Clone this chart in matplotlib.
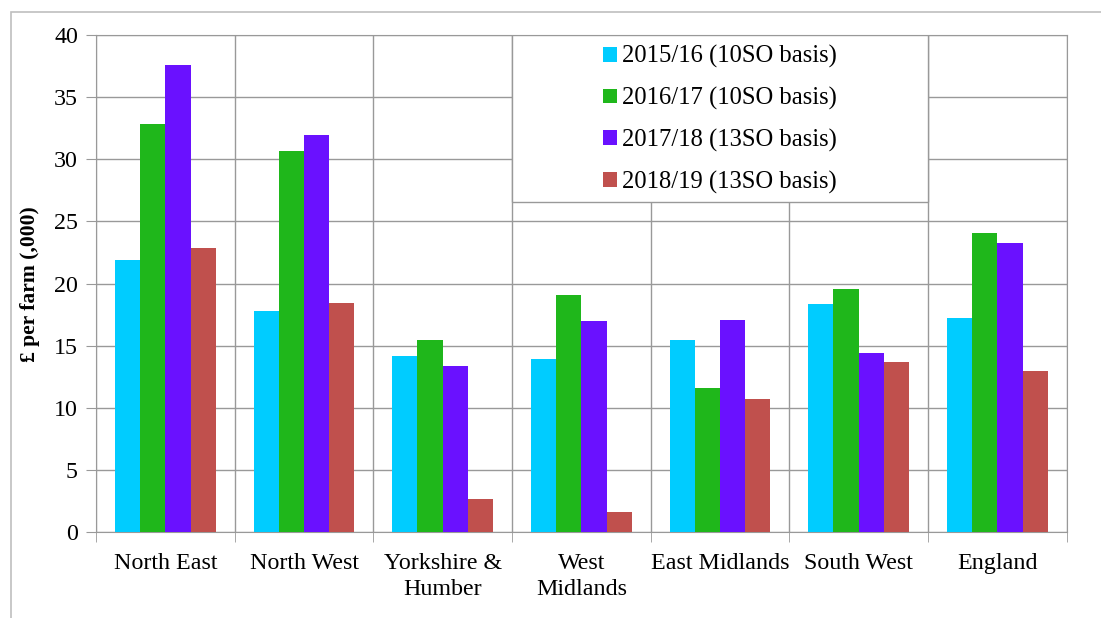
import numpy as np
import matplotlib
matplotlib.use("Agg")
import matplotlib.pyplot as plt
from matplotlib.patches import Rectangle

regions = ["North East", "North West", "Yorkshire &\nHumber", "West\nMidlands",
           "East Midlands", "South West", "England"]
series = ["2015/16 (10SO basis)", "2016/17 (10SO basis)",
          "2017/18 (13SO basis)", "2018/19 (13SO basis)"]
v_2015 = [21.9, 17.8, 14.2, 13.9, 15.45, 18.4, 17.2]
v_2016 = [32.8, 30.65, 15.45, 19.1, 11.6, 19.6, 24.05]
v_2017 = [37.6, 31.95, 13.4, 17.0, 17.1, 14.4, 23.3]
v_2018 = [22.85, 18.45, 2.7, 1.6, 10.75, 13.7, 13.0]
colors = ["#00CCFF", "#1FB71B", "#6A11FF", "#C0504D"]

plt.rcParams["font.family"] = ["Liberation Serif", "DejaVu Serif"]

fig = plt.figure(figsize=(11.01, 6.18), dpi=100)
# outer chart frame
fig.patches.append(Rectangle((11 / 1101, -0.1), 1.2, 1.1 - 12 / 618,
                             transform=fig.transFigure, fill=False,
                             edgecolor="#BFBFBF", linewidth=1.2))
ax = fig.add_axes([0.0872, 0.1387, 0.8816, 0.8047])

x = np.arange(len(regions))
w = 0.182
for i, (vals, lab, col) in enumerate(zip([v_2015, v_2016, v_2017, v_2018], series, colors)):
    ax.bar(x + (i - 1.5) * w, vals, width=w, color=col, label=lab, zorder=3)

ax.set_xlim(-0.5, len(regions) - 0.5)
ax.set_ylim(0, 40)
ax.set_yticks(range(0, 41, 5))
ax.set_xticks(x)
ax.set_xticklabels(regions, fontsize=17.3, linespacing=1.3)
ax.tick_params(axis="x", length=0, pad=15)
ax.tick_params(axis="y", labelsize=17.3, length=7, color="#999999", pad=6)
ax.set_xticks(np.arange(-0.5, len(regions), 1), minor=True)
ax.tick_params(axis="x", which="minor", length=7, color="#999999")

ax.grid(axis="y", color="#999999", linewidth=1, zorder=0)
ax.grid(axis="x", which="minor", color="#999999", linewidth=1, zorder=0)
for s in ax.spines.values():
    s.set_color("#999999")
ax.set_ylabel("£ per farm (,000)", fontsize=15.5, fontweight="bold", labelpad=10)

# legend box
box = Rectangle((0.4286, 0.664), 0.4286, 0.336, transform=ax.transAxes,
                facecolor="white", edgecolor="#999999", linewidth=1, zorder=4)
ax.add_patch(box)
leg = ax.legend(loc="center", bbox_to_anchor=(0.643, 0.83), fontsize=17.7,
                frameon=False, handlelength=0.55, handleheight=0.55,
                handletextpad=0.2, labelspacing=0.76, borderpad=0)
leg.set_zorder(5)

fig.savefig("out.png", dpi=100)
